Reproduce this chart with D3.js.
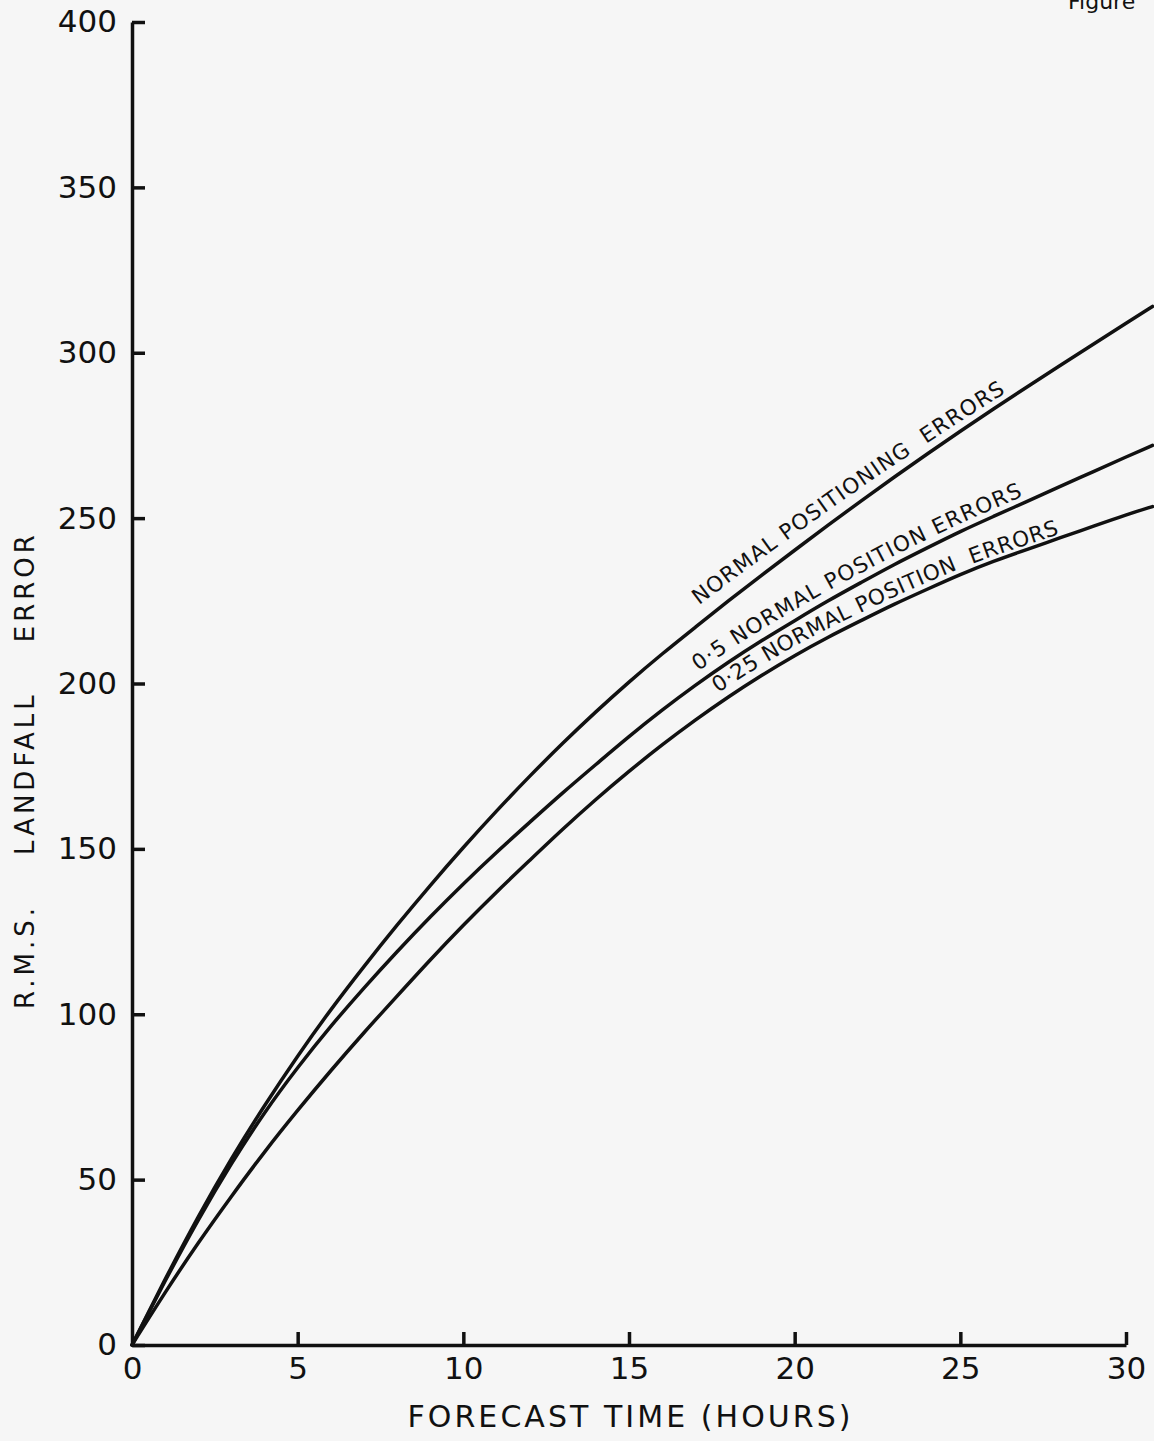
<!DOCTYPE html>
<html>
<head>
<meta charset="utf-8">
<script src="https://cdn.jsdelivr.net/npm/d3@7"></script>
<style>
  html, body { margin: 0; padding: 0; background: #f6f6f6; }
  svg { display: block; }
  text { font-family: "DejaVu Sans", sans-serif; fill: #111; }
</style>
</head>
<body>
<script>
// ---- data ----
const hours = [0,1,2,3,4,5,6,7,8,9,10,11,12,13,14,15,16,17,18,19,20,21,22,23,24,25,26,27,28,29,30,30.8];
const normalErrors = [0,20,39,56.5,72.5,87.5,101.5,114.5,127,139,150.5,161.5,172,182,191.5,200.5,209,217,225,232.7,240.3,247.8,255.2,262.4,269.4,276.3,283,289.6,296.1,302.5,308.9,314];
const halfErrors = [0,19.5,38,55,70.5,84,96.5,108,119,129.5,139.5,149,158,167,175.5,184,192,199.5,206.5,213,219,225,230.5,236,241,246,250.5,255,259.5,264,268.5,272];
const quarterErrors = [0,16,31,45,58.5,71,83,94.5,105.5,116.5,127,137,146.5,156,165,173.5,181.5,189,196,202.5,208.5,214,219,224,228.5,233,237,240.5,244,247.5,251,253.5];
const xTicks = [0,5,10,15,20,25,30];
const yTicks = [0,50,100,150,200,250,300,350,400];
const seriesNames = ["NORMAL POSITIONING  ERRORS", "0·5 NORMAL POSITION ERRORS", "0·25 NORMAL POSITION  ERRORS"];
const xTitle = "FORECAST TIME (HOURS)";
const yTitle = "R.M.S.    LANDFALL    ERROR";
const cornerText = "Figure";

// label placement along each curve: start / end hour, gap above the curve (px) at start / end
const labelHours = [[17.11, 26.44], [17.09, 26.95], [17.69, 28.04]];
const labelGaps  = [[19, 8], [12, 7], [11, 4]];

// ---- layout ----
const W = 1154, H = 1441;
const x = d3.scaleLinear().domain([0, 30]).range([132, 1126]);
const y = d3.scaleLinear().domain([0, 400]).range([1345, 22]);

const svg = d3.select("body").append("svg").attr("width", W).attr("height", H);
svg.append("rect").attr("width", W).attr("height", H).attr("fill", "#f6f6f6");
const defs = svg.append("defs");

// axes
const yAxis = d3.axisLeft(y).tickValues(yTicks).tickSizeInner(-13).tickSizeOuter(0).tickPadding(15);
const gy = svg.append("g").attr("transform", `translate(${x(0)},0)`).call(yAxis);
const xAxis = d3.axisBottom(x).tickValues(xTicks).tickSizeInner(-13).tickSizeOuter(0).tickPadding(12);
const gx = svg.append("g").attr("transform", `translate(0,${y(0)})`).call(xAxis);

[gx, gy].forEach(g => {
  g.select(".domain").attr("stroke", "#111").attr("stroke-width", 3.5);
  g.selectAll(".tick line").attr("stroke", "#111").attr("stroke-width", 3.5);
  g.selectAll(".tick text").attr("font-size", 31).attr("font-family", "DejaVu Sans").attr("fill", "#111");
});
gx.selectAll(".tick").filter(d => d === 0).select("line").remove();

// curves
const series = [normalErrors, halfErrors, quarterErrors];
const line = d3.line().x(d => x(d[0])).y(d => y(d[1])).curve(d3.curveBasis);
const curveNodes = series.map(vals =>
  svg.append("path")
    .datum(hours.map((h, i) => [h, vals[i]]))
    .attr("d", line)
    .attr("fill", "none")
    .attr("stroke", "#111")
    .attr("stroke-width", 3.5)
    .attr("stroke-linecap", "round")
    .node()
);

function yAtX(node, px) {
  let lo = 0, hi = node.getTotalLength();
  for (let k = 0; k < 40; k++) {
    const mid = (lo + hi) / 2;
    if (node.getPointAtLength(mid).x < px) lo = mid; else hi = mid;
  }
  return node.getPointAtLength(lo).y;
}

// curve labels following the curves
seriesNames.forEach((name, i) => {
  const node = curveNodes[i];
  const x1 = x(labelHours[i][0]), x2 = x(labelHours[i][1]);
  const [g1, g2] = labelGaps[i];
  const pts = [];
  for (let px = x1; px <= Math.min(x2 + 60, 1150); px += 2) {
    const t = Math.max(0, Math.min(1, (px - x1) / (x2 - x1)));
    pts.push([px, yAtX(node, px) - (g1 + (g2 - g1) * t)]);
  }
  let target = 0;
  for (let k = 1; k < pts.length; k++) {
    if (pts[k][0] > x2) break;
    target += Math.hypot(pts[k][0] - pts[k-1][0], pts[k][1] - pts[k-1][1]);
  }
  defs.append("path").attr("id", "lp" + i).attr("d", d3.line()(pts));
  const t = svg.append("text")
    .attr("font-size", 21.5)
    .style("white-space", "pre");
  t.append("textPath").attr("href", "#lp" + i).text(name);
  const natural = t.node().getComputedTextLength();
  t.attr("letter-spacing", (target - natural) / name.length);
});

// axis titles
svg.append("text")
  .attr("x", (x(0) + x(30)) / 2)
  .attr("y", 1427)
  .attr("text-anchor", "middle")
  .attr("font-size", 30)
  .attr("textLength", 443)
  .attr("lengthAdjust", "spacing")
  .text(xTitle);

svg.append("text")
  .attr("transform", `translate(34,770) rotate(-90)`)
  .attr("text-anchor", "middle")
  .attr("font-size", 26)
  .attr("letter-spacing", 4)
  .style("white-space", "pre")
  .text(yTitle);

svg.append("text")
  .attr("x", 1068)
  .attr("y", 9)
  .attr("font-size", 22)
  .text(cornerText);
</script>
</body>
</html>
